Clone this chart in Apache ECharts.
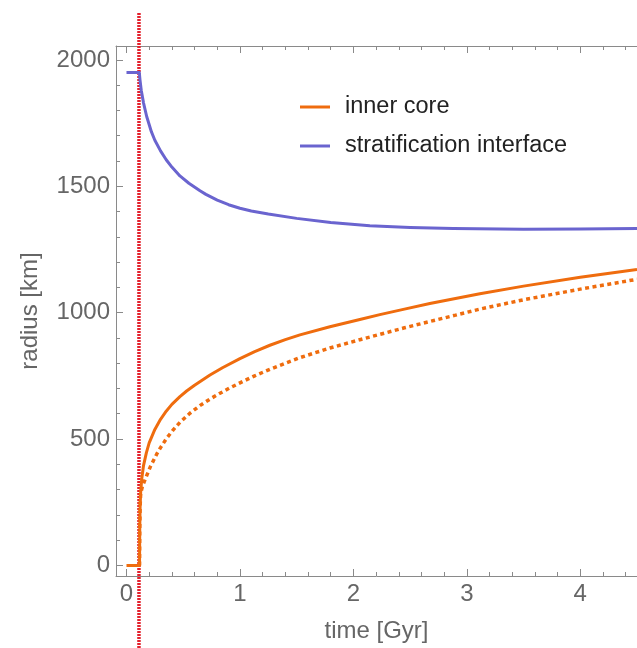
<!DOCTYPE html>
<html>
<head>
<meta charset="utf-8">
<title>Inner core and stratification interface radius</title>
<script src="https://cdn.jsdelivr.net/npm/echarts@6/dist/echarts.min.js"></script>
<style>
  html, body { margin: 0; padding: 0; background: #fff; }
  #chart { width: 637px; height: 648px; }
</style>
</head>
<body>
<div id="chart"></div>
<script>
// time [Gyr], radius [km]
const innerCore = [
  [0, 0], [0.115, 0], [0.117, 150], [0.12, 230], [0.125, 290], [0.135, 345],
  [0.15, 395], [0.175, 445], [0.2, 485], [0.25, 538], [0.3, 578], [0.35, 610],
  [0.4, 637], [0.471, 668], [0.53, 690], [0.6, 713], [0.736, 753], [0.85, 783],
  [1.0, 818], [1.13, 846], [1.264, 871], [1.4, 893], [1.529, 912], [1.793, 944],
  [2.057, 973], [2.233, 992], [2.45, 1014], [2.674, 1036], [2.9, 1056],
  [3.115, 1075], [3.5, 1105], [4.0, 1140], [4.5, 1171]
];
const innerCoreAlt = [
  [0.115, 0], [0.117, 150], [0.12, 230], [0.125, 285], [0.14, 312], [0.16, 335],
  [0.178, 355], [0.21, 390], [0.266, 440], [0.3, 466], [0.354, 503], [0.41, 535],
  [0.471, 566], [0.559, 602], [0.65, 633], [0.736, 658], [0.82, 680], [0.91, 702],
  [1.0, 722], [1.13, 750], [1.264, 776], [1.4, 800], [1.529, 822], [1.793, 860],
  [2.057, 893], [2.233, 914], [2.45, 940], [2.674, 965], [2.9, 990], [3.115, 1014],
  [3.5, 1051], [4.0, 1093], [4.5, 1132]
];
const stratification = [
  [0, 1950], [0.113, 1950], [0.119, 1921], [0.13, 1880], [0.15, 1830], [0.178, 1776],
  [0.22, 1715], [0.25, 1682], [0.3, 1640], [0.35, 1605], [0.4, 1576], [0.471, 1541],
  [0.55, 1512], [0.648, 1482], [0.7, 1468], [0.8, 1445], [0.9, 1427], [1.0, 1413],
  [1.1, 1402], [1.25, 1390], [1.5, 1373], [1.8, 1357], [2.145, 1344], [2.5, 1337],
  [2.88, 1333], [3.5, 1330], [4.0, 1331], [4.5, 1333]
];
const onsetTime = 0.11;

const xMajorTicks = [0, 1, 2, 3, 4];
const xMinorTicks = [0.2, 0.4, 0.6, 0.8, 1.2, 1.4, 1.6, 1.8, 2.2, 2.4, 2.6, 2.8,
                     3.2, 3.4, 3.6, 3.8, 4.2, 4.4];
const yMajorTicks = [0, 500, 1000, 1500, 2000];
const yMinorTicks = [100, 200, 300, 400, 600, 700, 800, 900, 1100, 1200, 1300, 1400,
                     1600, 1700, 1800, 1900];

const X_MIN = -0.0925, X_MAX = 4.5;
const Y_MIN = -42, Y_MAX = 2055;

const FONT = "'Liberation Sans', Arial, Helvetica, sans-serif";
const AXIS_GREY = '#8a8a8a';
const TEXT_GREY = '#666666';
const ORANGE = '#ef6c0e';
const VIOLET = '#6a64cf';
const RED = '#e3202c';

const tickStyle = { color: AXIS_GREY, width: 1 };
const plainNumber = v => String(v);

function xAxisDef(position, ticks, len, withLabels, showLine) {
  return {
    type: 'value', gridIndex: 0, position: position,
    min: X_MIN, max: X_MAX,
    axisLine: { show: showLine, onZero: false, lineStyle: { color: AXIS_GREY, width: 1 } },
    axisTick: { show: true, inside: true, length: len, customValues: ticks, lineStyle: tickStyle },
    axisLabel: withLabels
      ? { show: true, customValues: ticks, margin: 6, color: TEXT_GREY, fontSize: 24,
          fontFamily: FONT, formatter: plainNumber }
      : { show: false },
    splitLine: { show: false }
  };
}
function yAxisDef(ticks, len, withLabels, showLine) {
  return {
    type: 'value', gridIndex: 0, position: 'left',
    min: Y_MIN, max: Y_MAX,
    axisLine: { show: showLine, onZero: false, lineStyle: { color: AXIS_GREY, width: 1 } },
    axisTick: { show: true, inside: true, length: len, customValues: ticks, lineStyle: tickStyle },
    axisLabel: withLabels
      ? { show: true, customValues: ticks, margin: 6, color: TEXT_GREY, fontSize: 24,
          fontFamily: FONT, formatter: plainNumber }
      : { show: false },
    splitLine: { show: false }
  };
}

const xBottom = xAxisDef('bottom', xMajorTicks, 7, true, true);
xBottom.name = 'time [Gyr]';
xBottom.nameLocation = 'middle';
xBottom.nameGap = 43;
xBottom.nameTextStyle = { color: TEXT_GREY, fontSize: 24, fontFamily: FONT };

const yLeft = yAxisDef(yMajorTicks, 7, true, true);
yLeft.name = 'radius [km]';
yLeft.nameLocation = 'middle';
yLeft.nameGap = 74;
yLeft.nameRotate = 90;
yLeft.nameTextStyle = { color: TEXT_GREY, fontSize: 24, fontFamily: FONT };

const chart = echarts.init(document.getElementById('chart'), null, { renderer: 'canvas' });
chart.setOption({
  animation: false,
  backgroundColor: '#ffffff',
  grid: [
    { left: 116, right: 0, top: 46, bottom: 71 },
    { left: 116, right: 0, top: 12, bottom: 0 }
  ],
  legend: {
    data: ['inner core', 'stratification interface'],
    orient: 'vertical',
    left: 300, top: 95,
    padding: 0,
    icon: 'rect',
    itemWidth: 30, itemHeight: 3,
    itemGap: 15,
    textStyle: { color: '#222', fontSize: 23.5, fontFamily: FONT, lineHeight: 22, padding: [0, 0, 0, 10] }
  },
  xAxis: [
    xBottom,
    xAxisDef('bottom', xMinorTicks, 4, false, false),
    xAxisDef('top', xMajorTicks, 7, false, true),
    xAxisDef('top', xMinorTicks, 4, false, false),
    { type: 'value', gridIndex: 1, min: X_MIN, max: X_MAX, show: false }
  ],
  yAxis: [
    yLeft,
    yAxisDef(yMinorTicks, 4, false, false),
    { type: 'value', gridIndex: 1, min: 0, max: 1, show: false }
  ],
  series: [
    {
      name: 'onset', type: 'line', xAxisIndex: 4, yAxisIndex: 2,
      data: [[onsetTime, 0], [onsetTime, 1]],
      showSymbol: false, silent: true, z: 1,
      lineStyle: { color: RED, width: 3.5, type: [2, 1] }
    },
    {
      name: 'stratification interface', type: 'line', xAxisIndex: 0, yAxisIndex: 0,
      data: stratification, showSymbol: false,
      itemStyle: { color: VIOLET }, lineStyle: { color: VIOLET, width: 3, join: 'round' }, z: 3
    },
    {
      name: 'inner core', type: 'line', xAxisIndex: 0, yAxisIndex: 0,
      data: innerCore, showSymbol: false,
      itemStyle: { color: ORANGE }, lineStyle: { color: ORANGE, width: 3, join: 'round' }, z: 3
    },
    {
      name: 'inner core (alt.)', type: 'line', xAxisIndex: 0, yAxisIndex: 0,
      data: innerCoreAlt, showSymbol: false,
      itemStyle: { color: ORANGE }, lineStyle: { color: ORANGE, width: 3.5, type: [4, 3.5], cap: 'butt' }, z: 3
    }
  ]
});
</script>
</body>
</html>
